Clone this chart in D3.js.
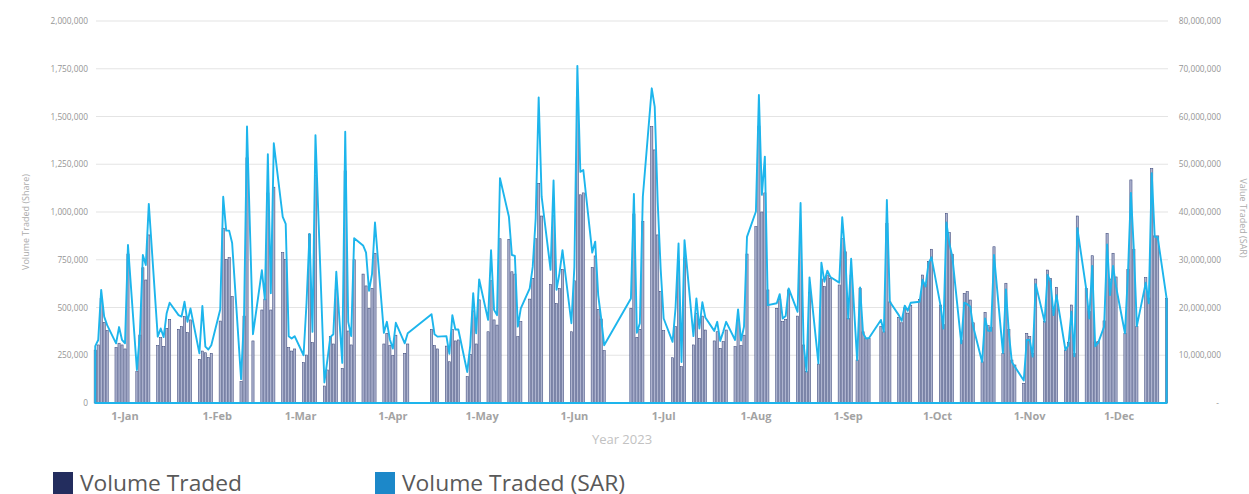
<!DOCTYPE html>
<meta charset="utf-8">
<style>
  body { margin: 0; background: #fff; }
  svg text { font-family: "Open Sans", sans-serif; }
</style>

<svg width="1249" height="494" id="chart"></svg>

<script src="https://d3js.org/d3.v7.min.js"></script>
<script>

// trading days, one line per week
var dates = [
  "2022-12-22","2022-12-23","2022-12-24","2022-12-25","2022-12-26",
  "2022-12-29","2022-12-30","2022-12-31","2023-01-01","2023-01-02",
  "2023-01-05","2023-01-06","2023-01-07","2023-01-08","2023-01-09",
  "2023-01-12","2023-01-13","2023-01-14","2023-01-15","2023-01-16",
  "2023-01-19","2023-01-20","2023-01-21","2023-01-22","2023-01-23",
  "2023-01-26","2023-01-27","2023-01-28","2023-01-29","2023-01-30",
  "2023-02-02","2023-02-03","2023-02-04","2023-02-05","2023-02-06",
  "2023-02-09","2023-02-10","2023-02-11","2023-02-13",
  "2023-02-16","2023-02-17","2023-02-18","2023-02-19","2023-02-20",
  "2023-02-23","2023-02-24","2023-02-25","2023-02-26","2023-02-27",
  "2023-03-02","2023-03-03","2023-03-04","2023-03-05","2023-03-06",
  "2023-03-09","2023-03-10","2023-03-11","2023-03-12","2023-03-13",
  "2023-03-15","2023-03-16","2023-03-17","2023-03-18","2023-03-19",
  "2023-03-22","2023-03-23","2023-03-24","2023-03-25","2023-03-26",
  "2023-03-29","2023-03-30","2023-03-31","2023-04-01","2023-04-02",
  "2023-04-05","2023-04-06",
  "2023-04-14","2023-04-15","2023-04-16",
  "2023-04-19","2023-04-20","2023-04-21","2023-04-22","2023-04-23",
  "2023-04-26","2023-04-27","2023-04-28","2023-04-29","2023-04-30",
  "2023-05-03","2023-05-04","2023-05-05","2023-05-06","2023-05-07",
  "2023-05-10","2023-05-11","2023-05-12","2023-05-13","2023-05-14",
  "2023-05-17","2023-05-18","2023-05-19","2023-05-20","2023-05-21",
  "2023-05-24","2023-05-25","2023-05-26","2023-05-27","2023-05-28",
  "2023-05-31","2023-06-01","2023-06-02","2023-06-03","2023-06-04",
  "2023-06-07","2023-06-08","2023-06-09","2023-06-10","2023-06-11",
  "2023-06-20","2023-06-21","2023-06-22","2023-06-23","2023-06-24",
  "2023-06-27","2023-06-28","2023-06-29","2023-06-30","2023-07-01",
  "2023-07-04","2023-07-05","2023-07-06","2023-07-07","2023-07-08",
  "2023-07-11","2023-07-12","2023-07-13","2023-07-14","2023-07-15",
  "2023-07-18","2023-07-19","2023-07-20","2023-07-21","2023-07-22",
  "2023-07-25","2023-07-26","2023-07-27","2023-07-28","2023-07-29",
  "2023-08-01","2023-08-02","2023-08-03","2023-08-04","2023-08-05",
  "2023-08-08","2023-08-09","2023-08-10","2023-08-11","2023-08-12",
  "2023-08-15","2023-08-16","2023-08-17","2023-08-18","2023-08-19",
  "2023-08-22","2023-08-23","2023-08-24","2023-08-25","2023-08-26",
  "2023-08-29","2023-08-30","2023-08-31","2023-09-01","2023-09-02",
  "2023-09-04","2023-09-05","2023-09-06","2023-09-07","2023-09-08",
  "2023-09-12","2023-09-13","2023-09-14","2023-09-15",
  "2023-09-18","2023-09-19","2023-09-20","2023-09-21","2023-09-22",
  "2023-09-25","2023-09-26","2023-09-27","2023-09-28","2023-09-29",
  "2023-10-02","2023-10-03","2023-10-04","2023-10-05","2023-10-06",
  "2023-10-09","2023-10-10","2023-10-11","2023-10-12","2023-10-13",
  "2023-10-16","2023-10-17","2023-10-18","2023-10-19","2023-10-20",
  "2023-10-23","2023-10-24","2023-10-25","2023-10-26","2023-10-27",
  "2023-10-30","2023-10-31","2023-11-01","2023-11-02","2023-11-03",
  "2023-11-06","2023-11-07","2023-11-08","2023-11-09","2023-11-10",
  "2023-11-13","2023-11-14","2023-11-15","2023-11-16","2023-11-17",
  "2023-11-20","2023-11-21","2023-11-22","2023-11-23","2023-11-24",
  "2023-11-26","2023-11-27","2023-11-28","2023-11-29","2023-11-30",
  "2023-12-03","2023-12-04","2023-12-05","2023-12-06","2023-12-07",
  "2023-12-10","2023-12-11","2023-12-12","2023-12-13","2023-12-14",
  "2023-12-17"
];

// volume traded, thousands of shares
var volumeK = [
  277,304,548,422,379,
  290,313,304,283,780,
  164,356,708,644,880,
  300,342,295,391,438,
  386,400,452,368,435,
  229,272,263,239,260,
  429,915,752,761,557,
  112,455,1284,325,
  487,544,1100,487,1130,
  787,752,290,272,283,
  211,251,885,316,1190,
  89,173,347,309,595,
  181,1215,377,304,750,
  675,613,496,600,784,
  309,365,300,248,355,
  260,309,
  386,300,283,
  298,216,385,325,330,
  138,255,482,309,540,
  373,640,435,408,860,
  857,687,675,347,426,
  544,653,860,1150,979,
  621,980,520,600,700,
  373,640,1600,1090,1100,
  710,770,490,440,274,
  496,990,344,386,950,
  1447,1325,880,583,379,
  237,400,740,190,760,
  304,470,339,455,382,
  325,373,286,321,382,
  295,435,300,355,780,
  923,1450,1000,1100,592,
  496,543,426,438,592,
  455,930,304,164,580,
  204,650,609,670,653,
  618,860,792,443,670,
  225,600,373,339,339,
  400,373,940,530,
  449,420,498,471,512,
  543,670,623,740,805,
  513,410,993,892,779,
  330,574,583,539,420,
  216,475,405,397,818,
  260,627,385,225,199,
  103,365,347,260,649,
  426,696,653,484,606,
  277,318,513,258,979,
  600,478,771,320,321,
  430,888,649,784,660,
  365,700,1168,805,400,
  656,550,1228,875,875,
  548
];

// value traded, millions of SAR
var valueM = [
  11.9,13.2,23.7,18.1,16.3,
  12.5,15.9,13.2,12.5,33.1,
  6.9,14.5,31.0,28.9,41.7,
  13.9,15.6,13.8,18.8,21.0,
  18.4,18.1,21.2,17.0,19.8,
  10.4,20.3,11.8,11.2,12.1,
  19.6,43.2,36.1,36.1,33.5,
  5.0,18.1,57.9,14.4,
  27.8,21.7,52.1,23.0,54.4,
  39.0,37.5,14.0,13.5,14.0,
  10.0,21.0,35.4,14.9,56.1,
  4.3,9.0,13.8,14.4,27.5,
  8.4,56.8,17.0,14.0,34.5,
  33.0,31.5,23.5,27.0,37.8,
  14.7,17.0,13.3,11.4,16.8,
  12.5,14.6,
  18.6,14.4,13.9,
  14.0,10.3,18.4,15.4,15.4,
  6.5,12.0,23.0,14.6,25.9,
  17.4,32.0,19.5,18.4,47.1,
  39.0,31.0,30.8,16.0,19.8,
  24.0,28.5,38.7,64.0,43.2,
  27.9,46.6,23.7,27.2,32.0,
  16.7,28.5,70.6,48.4,48.8,
  31.5,33.8,22.6,17.7,12.1,
  21.9,43.8,14.7,16.7,43.2,
  65.9,62.0,42.0,28.0,17.7,
  12.8,20.0,33.4,8.6,34.1,
  14.0,21.9,15.6,21.1,17.9,
  15.1,17.0,13.0,14.9,17.0,
  13.2,19.6,13.1,16.0,34.8,
  40.1,64.5,43.6,51.6,20.5,
  20.9,22.8,17.7,18.2,24.0,
  19.1,41.9,12.5,6.6,26.3,
  8.3,29.4,25.4,27.7,26.4,
  25.2,38.9,31.3,17.7,30.2,
  9.0,24.2,14.6,13.5,13.6,
  17.4,14.9,42.5,21.2,
  18.4,17.2,20.4,19.3,21.0,
  21.2,25.8,24.4,29.3,30.5,
  20.5,15.6,37.8,33.4,30.6,
  12.5,21.0,20.7,20.2,16.0,
  8.6,17.7,15.1,15.1,31.0,
  10.5,23.8,14.6,8.6,7.6,
  4.7,13.2,13.2,9.7,24.9,
  17.0,26.8,25.4,18.4,22.6,
  11.1,12.1,19.1,9.8,36.6,
  23.8,17.7,28.7,11.9,12.6,
  16.0,33.2,22.6,28.7,24.4,
  14.6,27.0,44.0,32.0,16.1,
  25.2,20.9,48.1,34.8,34.7,
  21.9
];

var volumeTicks = [0,250000,500000,750000,1000000,1250000,1500000,1750000,2000000];
var valueTicks = [0,10000000,20000000,30000000,40000000,50000000,60000000,70000000,80000000];
var monthTicks = ["2023-01-01","2023-02-01","2023-03-01","2023-04-01","2023-05-01","2023-06-01",
                  "2023-07-01","2023-08-01","2023-09-01","2023-10-01","2023-11-01","2023-12-01"];
var legendNames = ["Volume Traded", "Volume Traded (SAR)"];
var legendColors = ["#232d5e", "#1c88c9"];

var parse = d3.utcParse("%Y-%m-%d");
var rows = dates.map(function(d, i) {
  return {date: parse(d), volume: volumeK[i] * 1000, value: valueM[i] * 1000000};
});

var plotLeft = 96, plotRight = 1168, plotTop = 21, plotBottom = 403;

var svg = d3.select("#chart");

var x = d3.scaleUtc()
  .domain([parse("2023-01-01"), parse("2023-12-01")])
  .range([125, 1119]);

var yL = d3.scaleLinear().domain([0, 2000000]).range([plotBottom, plotTop]);
var yR = d3.scaleLinear().domain([0, 80000000]).range([plotBottom, plotTop]);

// gridlines
svg.append("g").selectAll("line")
  .data(volumeTicks.slice(1))
  .enter().append("line")
  .attr("x1", plotLeft).attr("x2", plotRight)
  .attr("y1", d => yL(d)).attr("y2", d => yL(d))
  .attr("stroke", "#e4e4e4")
  .attr("stroke-width", 1.2);

// left axis
var gl = svg.append("g")
  .attr("transform", "translate(" + plotLeft + ",0)")
  .call(d3.axisLeft(yL).tickValues(volumeTicks).tickSize(0).tickPadding(8).tickFormat(d3.format(",")));
gl.select(".domain").remove();
gl.selectAll("text").style("font-size", "8.3px").attr("fill", "#959595");

// right axis
var gr = svg.append("g")
  .attr("transform", "translate(" + plotRight + ",0)")
  .call(d3.axisRight(yR).tickValues(valueTicks).tickSize(0)
    .tickFormat(d => d === 0 ? "-" : d3.format(",")(d)));
gr.select(".domain").remove();
gr.selectAll("text")
  .attr("x", d => d === 0 ? 51 : 53)
  .attr("text-anchor", "end")
  .style("font-size", "8.3px")
  .attr("fill", "#959595");

// bars
svg.append("g").selectAll("rect")
  .data(rows)
  .enter().append("rect")
  .attr("x", d => x(d.date) - 1.1)
  .attr("y", d => yL(d.volume))
  .attr("width", 2.2)
  .attr("height", d => plotBottom - yL(d.volume))
  .attr("fill", "#aeb4cf")
  .attr("stroke", "#3b477a")
  .attr("stroke-width", 0.55);

// value traded outline (area drawn as an outline)
var pts = [[x(rows[0].date), yR(0)]]
  .concat(rows.map(d => [x(d.date), yR(d.value)]))
  .concat([[x(rows[rows.length - 1].date), yR(0)]]);

svg.append("path")
  .attr("d", d3.line()(pts) + "Z")
  .attr("fill", "none")
  .attr("stroke", "#1db5ec")
  .attr("stroke-width", 1.9)
  .attr("stroke-linejoin", "round");

// month labels
svg.append("g").selectAll("text")
  .data(monthTicks)
  .enter().append("text")
  .attr("x", d => x(parse(d)))
  .attr("y", 420)
  .attr("text-anchor", "middle")
  .style("font-size", "11px")
  .style("font-weight", "bold")
  .attr("fill", "#a3a3a3")
  .text(d => d3.utcFormat("%-d-%b")(parse(d)));

svg.append("text")
  .attr("x", 622).attr("y", 444)
  .attr("text-anchor", "middle")
  .style("font-size", "13px")
  .attr("fill", "#c2c2c2")
  .text("Year 2023");

svg.append("text")
  .attr("transform", "translate(29,222) rotate(-90)")
  .attr("text-anchor", "middle")
  .style("font-size", "9px")
  .attr("fill", "#ababab")
  .text("Volume Traded (Share)");

svg.append("text")
  .attr("transform", "translate(1240,218) rotate(90)")
  .attr("text-anchor", "middle")
  .style("font-size", "9px")
  .attr("fill", "#ababab")
  .text("Value Traded (SAR)");

// legend
var legX = [53, 375];
var legW = [162, 223];
var leg = svg.append("g").selectAll("g")
  .data(legendNames)
  .enter().append("g")
  .attr("transform", (d, i) => "translate(" + legX[i] + ",0)");

leg.append("rect")
  .attr("x", 0).attr("y", 472)
  .attr("width", 20).attr("height", 24)
  .attr("fill", (d, i) => legendColors[i]);

leg.append("text")
  .attr("x", 27).attr("y", 491)
  .style("font-size", "21px")
  .attr("fill", "#595959")
  .attr("textLength", (d, i) => legW[i])
  .attr("lengthAdjust", "spacingAndGlyphs")
  .text(d => d);

</script>
